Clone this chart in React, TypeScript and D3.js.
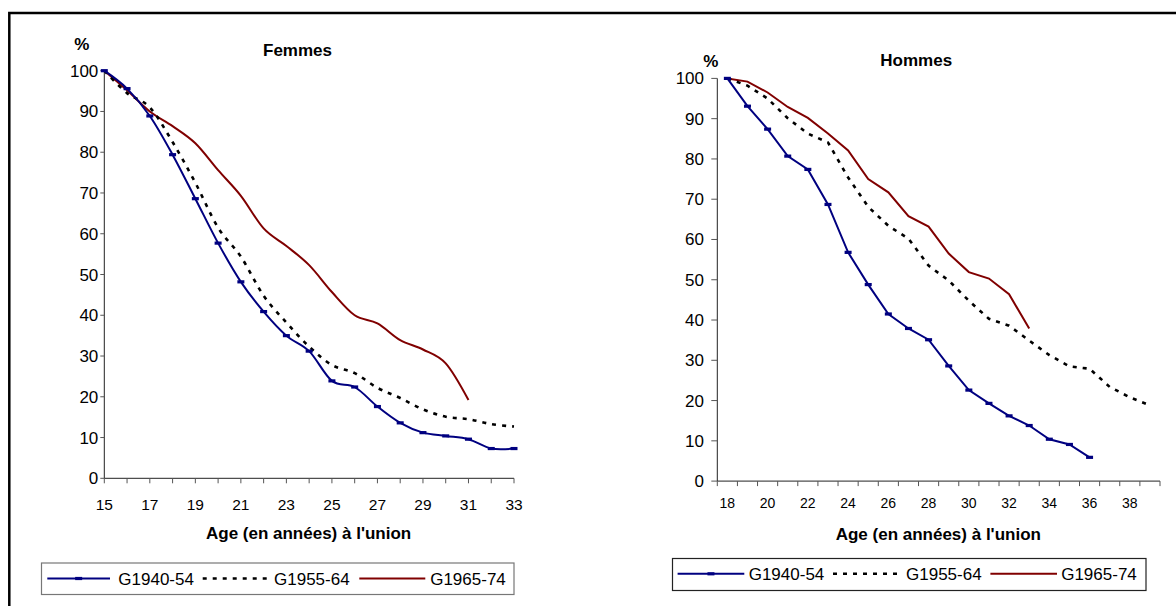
import React from "react";
import * as d3 from "d3";

// ---------- DATA ----------
const seriesNames = ["G1940-54", "G1955-64", "G1965-74"];

// Femmes (ages 15..33)
const femmesAges = [15, 16, 17, 18, 19, 20, 21, 22, 23, 24, 25, 26, 27, 28, 29, 30, 31, 32, 33];
const femmesG4054 = [100, 95.6, 88.9, 79.4, 68.6, 57.7, 48.2, 40.9, 35.0, 31.2, 23.9, 22.4, 17.6, 13.6, 11.2, 10.4, 9.6, 7.3, 7.3];
const femmesG5564 = [100, 94.5, 91.0, 82.5, 72.5, 61.5, 54.4, 44.8, 38.2, 32.3, 27.8, 25.8, 22.2, 19.7, 16.9, 15.1, 14.5, 13.3, 12.7];
const femmesG6574 = [100, 95.2, 90.0, 86.4, 82.2, 75.6, 69.3, 61.3, 57.0, 52.3, 45.7, 40.0, 38.0, 33.9, 31.6, 28.2, 19.2];
const femmesTickLabels = [15, 17, 19, 21, 23, 25, 27, 29, 31, 33];

// Hommes (ages 18..39, category axis)
const hommesAges = [18, 19, 20, 21, 22, 23, 24, 25, 26, 27, 28, 29, 30, 31, 32, 33, 34, 35, 36, 37, 38, 39];
const hommesG4054 = [100, 93.1, 87.4, 80.7, 77.4, 68.7, 56.8, 48.8, 41.5, 37.9, 35.1, 28.6, 22.6, 19.3, 16.2, 13.8, 10.4, 9.1, 5.9];
const hommesG5564 = [100, 98.2, 95.0, 90.1, 86.3, 84.1, 75.4, 68.1, 63.4, 60.2, 53.5, 49.8, 44.8, 40.3, 38.6, 34.9, 31.3, 28.5, 27.9, 23.4, 20.8, 18.8];
const hommesG6574 = [100, 99.2, 96.5, 92.9, 90.2, 86.3, 82.1, 75.0, 71.7, 65.8, 63.2, 56.5, 51.9, 50.3, 46.4, 37.9];
const hommesTickLabels = [18, 20, 22, 24, 26, 28, 30, 32, 34, 36, 38];

const yTicks = [0, 10, 20, 30, 40, 50, 60, 70, 80, 90, 100];

const BLUE = "#000080";
const RED = "#800000";
const FONT = "'Liberation Sans', Arial, sans-serif";

type Pt = [number, number];

function Legend({ x0, y0, x1, y1, stroke, items }: any) {
  return (
    <g>
      <rect x={x0} y={y0} width={x1 - x0} height={y1 - y0} fill="#fff" stroke={stroke} strokeWidth={1.2} />
      {items.map((it: any, i: number) => (
        <g key={i}>
          <line x1={it.lx0} x2={it.lx1} y1={it.ly} y2={it.ly} stroke={it.color} strokeWidth={it.dash ? 2.6 : 2}
            strokeDasharray={it.dash ? "4,6" : undefined} />
          {it.marker && <rect x={(it.lx0 + it.lx1) / 2 - 3.5} y={it.ly - 1.6} width={7} height={3.2} fill={BLUE} />}
          <text x={it.tx} y={it.ty} fontSize={17} fontFamily={FONT} fill="#000">{it.label}</text>
        </g>
      ))}
    </g>
  );
}

function FemmesChart() {
  const x = d3.scaleLinear().domain([15, 33]).range([104.3, 514]);
  const y = d3.scaleLinear().domain([0, 100]).range([478.3, 70.7]);
  const line = d3.line<Pt>().x(d => x(d[0])).y(d => y(d[1])).curve(d3.curveCardinal.tension(0));
  const p1: Pt[] = femmesG4054.map((v, i) => [femmesAges[i], v]);
  const p2: Pt[] = femmesG5564.map((v, i) => [femmesAges[i], v]);
  const p3: Pt[] = femmesG6574.map((v, i) => [femmesAges[i], v]);
  const x0 = x(15), yb = y(0);
  return (
    <g fontFamily={FONT}>
      <text x={81.7} y={49.5} fontSize={17} fontWeight="bold" textAnchor="middle">%</text>
      <text x={297.5} y={56} fontSize={17} fontWeight="bold" textAnchor="middle">Femmes</text>
      {/* y axis */}
      <line x1={x0} x2={x0} y1={y(100)} y2={yb} stroke="#222" strokeWidth={1} />
      {yTicks.map(t => (
        <g key={t}>
          <line x1={x0 - 4} x2={x0} y1={y(t)} y2={y(t)} stroke="#555" />
          <text x={x0 - 6} y={y(t) + 6} fontSize={17} textAnchor="end">{t}</text>
        </g>
      ))}
      {/* x axis */}
      <line x1={x0} x2={x(33)} y1={yb} y2={yb} stroke="#222" strokeWidth={1} />
      {femmesAges.map(a => (
        <line key={a} x1={x(a)} x2={x(a)} y1={yb} y2={yb + 5} stroke="#555" />
      ))}
      {femmesTickLabels.map(a => (
        <text key={a} x={x(a)} y={510} fontSize={15.5} textAnchor="middle">{a}</text>
      ))}
      <text x={308.6} y={539} fontSize={17} fontWeight="bold" textAnchor="middle">Age (en années) à l'union</text>
      {/* series */}
      <path d={line(p3) || ""} fill="none" stroke={RED} strokeWidth={2} />
      <path d={line(p2) || ""} fill="none" stroke="#000" strokeWidth={2.6} strokeDasharray="4,6" />
      <path d={line(p1) || ""} fill="none" stroke={BLUE} strokeWidth={2} />
      {p1.map((d, i) => (
        <rect key={i} x={x(d[0]) - 3.5} y={y(d[1]) - 1.6} width={7} height={3.2} fill={BLUE} />
      ))}
      <Legend x0={41.5} y0={563} x1={514} y1={594.5} stroke="#777"
        items={[
          { lx0: 47.3, lx1: 110, ly: 578.5, color: BLUE, marker: true, tx: 118.3, ty: 585, label: seriesNames[0] },
          { lx0: 202.7, lx1: 268.3, ly: 578.5, color: "#000", dash: true, tx: 274, ty: 585, label: seriesNames[1] },
          { lx0: 359.3, lx1: 425.3, ly: 578.5, color: RED, tx: 430.2, ty: 585, label: seriesNames[2] },
        ]} />
    </g>
  );
}

function HommesChart() {
  const x = d3.scaleBand<number>().domain(hommesAges).range([717.3, 1160]).paddingInner(0).paddingOuter(0);
  const cx = (a: number) => (x(a) as number) + x.bandwidth() / 2;
  const y = d3.scaleLinear().domain([0, 100]).range([481.1, 78.4]);
  const line = d3.line<Pt>().x(d => cx(d[0])).y(d => y(d[1]));
  const p1: Pt[] = hommesG4054.map((v, i) => [hommesAges[i], v]);
  const p2: Pt[] = hommesG5564.map((v, i) => [hommesAges[i], v]);
  const p3: Pt[] = hommesG6574.map((v, i) => [hommesAges[i], v]);
  const x0 = 717.3, yb = y(0);
  const bounds = hommesAges.map(a => x(a) as number).concat([1160]);
  return (
    <g fontFamily={FONT}>
      <text x={710.7} y={67} fontSize={17} fontWeight="bold" textAnchor="middle">%</text>
      <text x={916.2} y={65.5} fontSize={17} fontWeight="bold" textAnchor="middle">Hommes</text>
      <line x1={x0} x2={x0} y1={y(100)} y2={yb} stroke="#222" strokeWidth={1} />
      {yTicks.map(t => (
        <g key={t}>
          <line x1={x0 - 6} x2={x0} y1={y(t)} y2={y(t)} stroke="#555" />
          <text x={704} y={y(t) + 6} fontSize={17} textAnchor="end">{t}</text>
        </g>
      ))}
      <line x1={x0} x2={1160} y1={yb} y2={yb} stroke="#222" strokeWidth={1} />
      {bounds.map((b, i) => (
        <line key={i} x1={b} x2={b} y1={yb} y2={yb + 5} stroke="#555" />
      ))}
      {hommesTickLabels.map(a => (
        <text key={a} x={cx(a)} y={508} fontSize={14} textAnchor="middle">{a}</text>
      ))}
      <text x={938.3} y={540} fontSize={17} fontWeight="bold" textAnchor="middle">Age (en années) à l'union</text>
      <path d={line(p3) || ""} fill="none" stroke={RED} strokeWidth={2} />
      <path d={line(p2) || ""} fill="none" stroke="#000" strokeWidth={2.6} strokeDasharray="4,6" />
      <path d={line(p1) || ""} fill="none" stroke={BLUE} strokeWidth={2} />
      {p1.map((d, i) => (
        <rect key={i} x={cx(d[0]) - 3.5} y={y(d[1]) - 1.6} width={7} height={3.2} fill={BLUE} />
      ))}
      <Legend x0={672.5} y0={558.5} x1={1146} y1={590.5} stroke="#222"
        items={[
          { lx0: 677.6, lx1: 744.3, ly: 573.8, color: BLUE, marker: true, tx: 748.7, ty: 580.3, label: seriesNames[0] },
          { lx0: 833, lx1: 901.5, ly: 573.8, color: "#000", dash: true, tx: 906, ty: 580.3, label: seriesNames[1] },
          { lx0: 990.4, lx1: 1057, ly: 573.8, color: RED, tx: 1061.2, ty: 580.3, label: seriesNames[2] },
        ]} />
    </g>
  );
}

export default function App() {
  return (
    <svg width={1176} height={606} style={{ position: "absolute", left: 0, top: 0, background: "#fff" }}>
      <rect x={0} y={0} width={1176} height={606} fill="#fff" />
      <rect x={9.3} y={13} width={1200} height={700} fill="none" stroke="#000" strokeWidth={2.5} />
      <FemmesChart />
      <HommesChart />
    </svg>
  );
}
